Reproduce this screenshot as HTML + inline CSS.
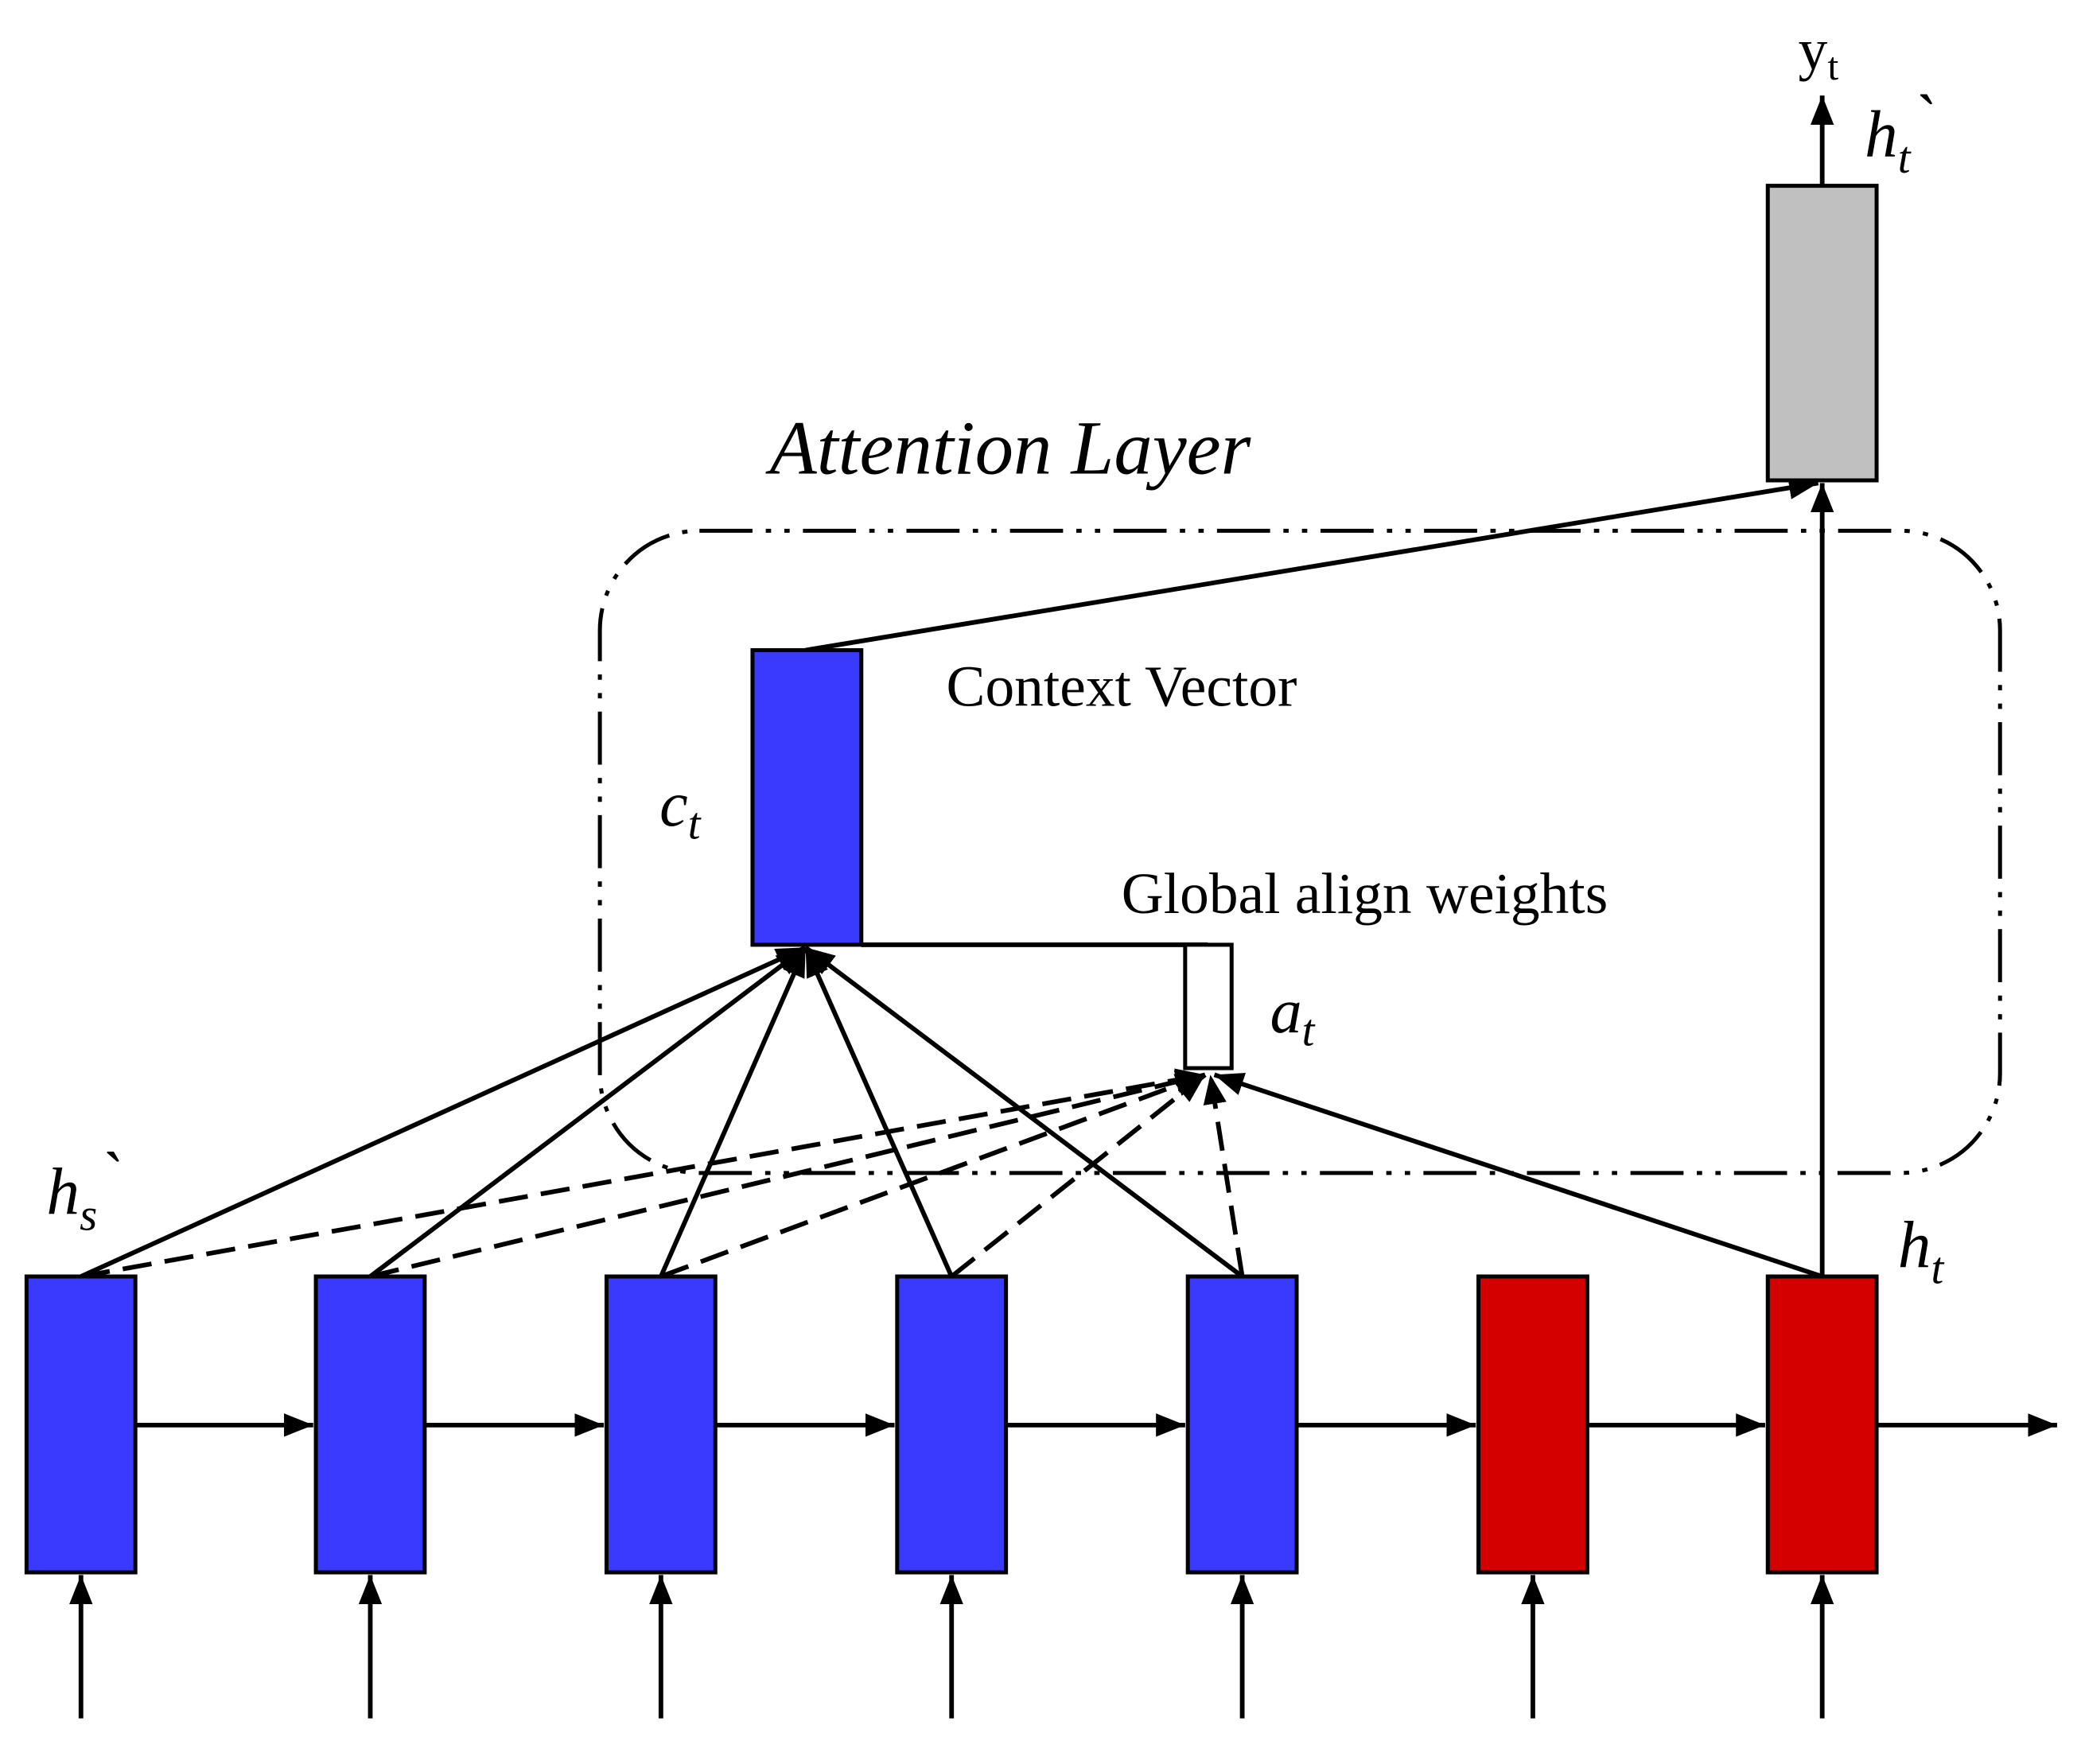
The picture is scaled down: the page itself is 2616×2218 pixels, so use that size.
<!DOCTYPE html>
<html><head><meta charset="utf-8"><style>html,body{margin:0;padding:0;background:#fff}svg{display:block}</style></head>
<body>
<svg width="2616" height="2218" viewBox="0 0 1568 1329.4" xmlns="http://www.w3.org/2000/svg" font-family="Liberation Serif, serif">
<defs>
<marker id="a" viewBox="0 0 10 10" refX="10" refY="5" markerWidth="7" markerHeight="7" orient="auto" markerUnits="userSpaceOnUse"><path d="M0,0 L10,5 L0,10 z" fill="#000"/></marker>
<marker id="b" viewBox="0 0 10 10" refX="10" refY="5" markerWidth="22" markerHeight="22" orient="auto" markerUnits="userSpaceOnUse"><path d="M0,1 L10,5 L0,9 z" fill="#000"/></marker>
</defs>
<g stroke="#000" stroke-width="3" fill="none">
<rect x="452" y="400" width="1055" height="484" rx="75" stroke-dasharray="40,10,4,10,4,10"/>
</g>
<g stroke="#000" stroke-width="3.5" fill="none">
<!-- horizontal arrows -->
<line x1="102" y1="1074" x2="236" y2="1074" marker-end="url(#b)"/>
<line x1="320" y1="1074" x2="455" y2="1074" marker-end="url(#b)"/>
<line x1="539" y1="1074" x2="674" y2="1074" marker-end="url(#b)"/>
<line x1="758" y1="1074" x2="893" y2="1074" marker-end="url(#b)"/>
<line x1="977" y1="1074" x2="1112" y2="1074" marker-end="url(#b)"/>
<line x1="1196" y1="1074" x2="1330" y2="1074" marker-end="url(#b)"/>
<line x1="1414" y1="1074" x2="1550" y2="1074" marker-end="url(#b)"/>
<!-- inputs -->
<line x1="61" y1="1295" x2="61" y2="1187" marker-end="url(#b)"/>
<line x1="279" y1="1295" x2="279" y2="1187" marker-end="url(#b)"/>
<line x1="498" y1="1295" x2="498" y2="1187" marker-end="url(#b)"/>
<line x1="717" y1="1295" x2="717" y2="1187" marker-end="url(#b)"/>
<line x1="936" y1="1295" x2="936" y2="1187" marker-end="url(#b)"/>
<line x1="1155" y1="1295" x2="1155" y2="1187" marker-end="url(#b)"/>
<line x1="1373" y1="1295" x2="1373" y2="1187" marker-end="url(#b)"/>
<!-- output -->
<line x1="1373" y1="140" x2="1373" y2="72" marker-end="url(#b)"/>
<line x1="1373" y1="962" x2="1373" y2="364" marker-end="url(#b)"/>
<line x1="607" y1="490" x2="1370" y2="364" marker-end="url(#b)"/>
<!-- solid to ct -->
<line x1="61" y1="962" x2="607" y2="714" marker-end="url(#b)"/>
<line x1="279" y1="962" x2="607" y2="714" marker-end="url(#b)"/>
<line x1="498" y1="962" x2="607" y2="714" marker-end="url(#b)"/>
<line x1="717" y1="962" x2="607" y2="714" marker-end="url(#b)"/>
<line x1="936" y1="962" x2="607" y2="714" marker-end="url(#b)"/>
<line x1="649" y1="712" x2="910" y2="712"/>
<line x1="1373" y1="962" x2="915" y2="810" marker-end="url(#b)"/>
<!-- dashed to at -->
<g stroke-dasharray="22,10">
<line x1="61" y1="962" x2="908" y2="810" marker-end="url(#b)"/>
<line x1="279" y1="962" x2="908" y2="810" marker-end="url(#b)"/>
<line x1="498" y1="962" x2="908" y2="810" marker-end="url(#b)"/>
<line x1="717" y1="962" x2="908" y2="810" marker-end="url(#b)"/>
<line x1="936" y1="962" x2="912" y2="810" marker-end="url(#b)"/>
</g>
</g>
<g stroke="#000" stroke-width="3">
<rect x="20" y="962" width="82" height="223" fill="#3a3aff"/>
<rect x="238" y="962" width="82" height="223" fill="#3a3aff"/>
<rect x="457" y="962" width="82" height="223" fill="#3a3aff"/>
<rect x="676" y="962" width="82" height="223" fill="#3a3aff"/>
<rect x="895" y="962" width="82" height="223" fill="#3a3aff"/>
<rect x="1114" y="962" width="82" height="223" fill="#d40000"/>
<rect x="1332" y="962" width="82" height="223" fill="#d40000"/>
<rect x="1332" y="140" width="82" height="222" fill="#c0c0c0"/>
<rect x="567" y="490" width="82" height="222" fill="#3a3aff"/>
<rect x="893" y="712" width="35" height="93" fill="#fff"/>
</g>
<g fill="#000">
<text x="580" y="357" font-size="58" font-style="italic">Attention Layer</text>
<text x="713" y="532" font-size="44">Context Vector</text>
<text x="845" y="688" font-size="44">Global align weights</text>
<text x="497" y="622" font-size="48" font-style="italic">c<tspan font-size="34" dy="10">t</tspan></text>
<text x="957" y="778" font-size="48" font-style="italic">a<tspan font-size="34" dy="10">t</tspan></text>
<text x="35" y="915" font-size="50" font-style="italic">h<tspan font-size="34" dy="12">s</tspan><tspan dy="-24">`</tspan></text>
<text x="1430" y="955" font-size="50" font-style="italic">h<tspan font-size="34" dy="12">t</tspan></text>
<text x="1405" y="118" font-size="50" font-style="italic">h<tspan font-size="34" dy="12">t</tspan><tspan dy="-24">`</tspan></text>
<text x="1355" y="52" font-size="44">y<tspan font-size="30" dy="8">t</tspan></text>
</g>
</svg>
</body></html>
